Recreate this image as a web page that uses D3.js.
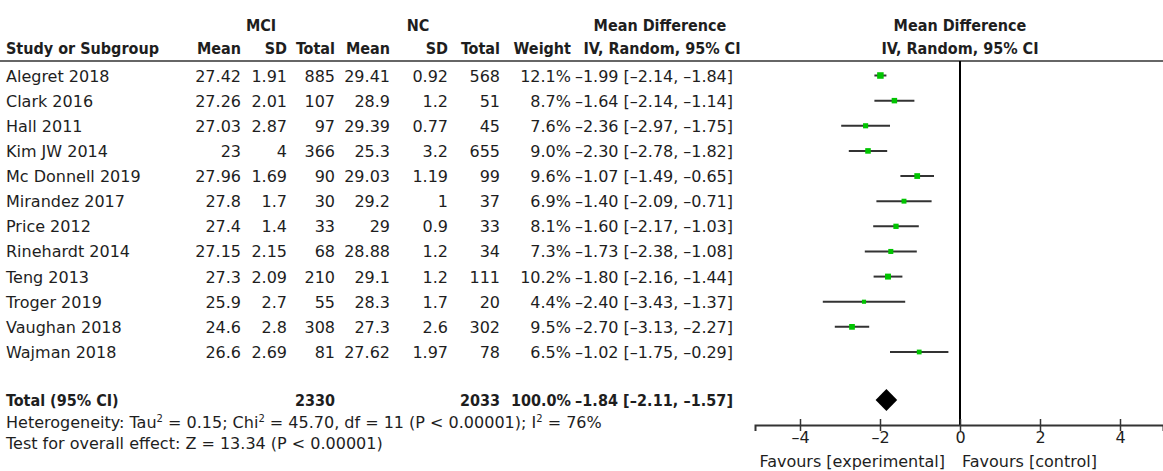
<!DOCTYPE html>
<html>
<head>
<meta charset="utf-8">
<script src="https://cdn.jsdelivr.net/npm/d3@7"></script>
<style>
  body { margin: 0; background: #fff; }
  svg { font-family: "DejaVu Sans", sans-serif; }
</style>
</head>
<body>
<div id="forest"></div>
<script>
// study data
const studies = ["Alegret 2018", "Clark 2016", "Hall 2011", "Kim JW 2014", "Mc Donnell 2019",
    "Mirandez 2017", "Price 2012", "Rinehardt 2014", "Teng 2013", "Troger 2019",
    "Vaughan 2018", "Wajman 2018"];
const mciMean  = [27.42, 27.26, 27.03, 23, 27.96, 27.8, 27.4, 27.15, 27.3, 25.9, 24.6, 26.6];
const mciSD    = [1.91, 2.01, 2.87, 4, 1.69, 1.7, 1.4, 2.15, 2.09, 2.7, 2.8, 2.69];
const mciTotal = [885, 107, 97, 366, 90, 30, 33, 68, 210, 55, 308, 81];
const ncMean   = [29.41, 28.9, 29.39, 25.3, 29.03, 29.2, 29, 28.88, 29.1, 28.3, 27.3, 27.62];
const ncSD     = [0.92, 1.2, 0.77, 3.2, 1.19, 1, 0.9, 1.2, 1.2, 1.7, 2.6, 1.97];
const ncTotal  = [568, 51, 45, 655, 99, 37, 33, 34, 111, 20, 302, 78];
const weight   = [12.1, 8.7, 7.6, 9.0, 9.6, 6.9, 8.1, 7.3, 10.2, 4.4, 9.5, 6.5];
const md       = [-1.99, -1.64, -2.36, -2.30, -1.07, -1.40, -1.60, -1.73, -1.80, -2.40, -2.70, -1.02];
const mdLow    = [-2.14, -2.14, -2.97, -2.78, -1.49, -2.09, -2.17, -2.38, -2.16, -3.43, -3.13, -1.75];
const mdHigh   = [-1.84, -1.14, -1.75, -1.82, -0.65, -0.71, -1.03, -1.08, -1.44, -1.37, -2.27, -0.29];

const total = {mci: 2330, nc: 2033, weight: 100.0, md: -1.84, lo: -2.11, hi: -1.57};
const axisTicks = [-4, -2, 0, 2, 4];

const W = 1163, H = 471;
const fontSize = 16;
const ink = "#1e1e1e";
const ciWidth = 158;  // the CI column is set a bit tighter than the font's natural width

const f2 = d3.format(".2f"), f1 = d3.format(".1f");
let dash = s => s.replace(/[-\u2212]/g, "\u2013");
let ciText = (m, l, h) => dash(`${f2(m)} [${f2(l)}, ${f2(h)}]`);

let svg = d3.select("#forest").append("svg")
    .attr("width", W).attr("height", H)
    .attr("viewBox", `0 0 ${W} ${H}`);

// row positions
let y = d3.scalePoint().domain(studies).range([75.5, 352]);
// forest plot x scale (40px per unit, 0 at 960)
let x = d3.scaleLinear().domain([-5.125, 5.075]).range([755, 1163]);

const yLine = 61, yTotal = 400, yAxis = 425;

/* Header */
let head = svg.append("g").attr("font-weight", "bold").attr("fill", ink)
    .attr("font-family", "'DejaVu Sans Condensed', 'DejaVu Sans', sans-serif")
    .attr("font-size", fontSize);
let h1 = [["MCI", 261], ["NC", 418], ["Mean Difference", 660], ["Mean Difference", 960]];
head.selectAll(".h1").data(h1).join("text")
    .attr("x", d => d[1]).attr("y", 31)
    .attr("text-anchor", "middle").text(d => d[0]);
let h2 = [["Mean", 241], ["SD", 287], ["Total", 335], ["Mean", 390], ["SD", 448], ["Total", 500], ["Weight", 571]];
head.selectAll(".h2").data(h2).join("text")
    .attr("x", d => d[1]).attr("y", 54)
    .attr("text-anchor", "end").text(d => d[0]);
head.append("text").attr("x", 6).attr("y", 54).text("Study or Subgroup");
head.append("text").attr("x", 662).attr("y", 54).attr("text-anchor", "middle").text("IV, Random, 95% CI");
head.append("text").attr("x", 960).attr("y", 54).attr("text-anchor", "middle").text("IV, Random, 95% CI");

svg.append("line").attr("x1", 0).attr("x2", W).attr("y1", yLine).attr("y2", yLine)
    .attr("stroke", "#333").attr("stroke-width", 1.5);

/* Table body */
let cols = [
    {v: mciMean, x: 241}, {v: mciSD, x: 287}, {v: mciTotal, x: 335},
    {v: ncMean, x: 390}, {v: ncSD, x: 448}, {v: ncTotal, x: 500},
    {v: weight.map(w => f1(w) + "%"), x: 571}
];
let body = svg.append("g").attr("fill", ink).attr("font-size", fontSize);
body.selectAll(".name").data(studies).join("text")
    .attr("x", 6).attr("y", d => y(d) + 6).text(d => d);
cols.forEach(c => {
    body.append("g").selectAll("text").data(c.v).join("text")
        .attr("x", c.x).attr("y", (d, i) => y(studies[i]) + 6)
        .attr("text-anchor", "end").text(d => String(d));
});
body.append("g").selectAll("text").data(studies).join("text")
    .attr("x", 733 - ciWidth).attr("y", d => y(d) + 6)
    .attr("textLength", ciWidth).attr("lengthAdjust", "spacing")
    .text((d, i) => ciText(md[i], mdLow[i], mdHigh[i]));

/* Total row */
let tot = svg.append("g").attr("font-weight", "bold").attr("fill", ink)
    .attr("font-family", "'DejaVu Sans Condensed', 'DejaVu Sans', sans-serif")
    .attr("font-size", fontSize);
tot.append("text").attr("x", 6).attr("y", yTotal + 6).text("Total (95% CI)");
[[total.mci, 335], [total.nc, 500], [f1(total.weight) + "%", 571]]
    .forEach(d => tot.append("text").attr("x", d[1]).attr("y", yTotal + 6)
        .attr("text-anchor", "end").text(String(d[0])));
tot.append("text").attr("x", 733 - ciWidth).attr("y", yTotal + 6)
    .attr("textLength", ciWidth).attr("lengthAdjust", "spacing")
    .text(ciText(total.md, total.lo, total.hi));

let notes = svg.append("g").attr("fill", ink).attr("font-size", fontSize);
let het = notes.append("text").attr("x", 6).attr("y", 428);
het.append("tspan").text("Heterogeneity: Tau");
het.append("tspan").attr("font-size", 10).attr("dy", -6).text("2");
het.append("tspan").attr("dy", 6).text(" = 0.15; Chi");
het.append("tspan").attr("font-size", 10).attr("dy", -6).text("2");
het.append("tspan").attr("dy", 6).text(" = 45.70, df = 11 (P < 0.00001); I");
het.append("tspan").attr("font-size", 10).attr("dy", -6).text("2");
het.append("tspan").attr("dy", 6).text(" = 76%");
notes.append("text").attr("x", 6).attr("y", 449).text("Test for overall effect: Z = 13.34 (P < 0.00001)");

/* Forest plot */
let plot = svg.append("g");
plot.append("line")
    .attr("x1", x(0)).attr("x2", x(0)).attr("y1", yLine).attr("y2", yAxis)
    .attr("stroke", "#000").attr("stroke-width", 2);

plot.append("g").selectAll("line").data(studies).join("line")
    .attr("x1", (d, i) => x(mdLow[i])).attr("x2", (d, i) => x(mdHigh[i]))
    .attr("y1", d => y(d)).attr("y2", d => y(d))
    .attr("stroke", "#333").attr("stroke-width", 2);

let boxSize = d3.scaleLinear().domain([4, 12]).range([4, 6.5]);
plot.append("g").selectAll("rect").data(studies).join("rect")
    .attr("x", (d, i) => x(md[i]) - boxSize(weight[i]) / 2)
    .attr("y", (d, i) => y(d) - boxSize(weight[i]) / 2)
    .attr("width", (d, i) => boxSize(weight[i]))
    .attr("height", (d, i) => boxSize(weight[i]))
    .attr("fill", "#00c400");

// summary diamond
plot.append("path")
    .attr("d", `M${x(total.lo)},${yTotal} L${x(total.md)},${yTotal - 11} L${x(total.hi)},${yTotal} L${x(total.md)},${yTotal + 11} Z`)
    .attr("fill", "#000");

/* Axis */
let axis = svg.append("g")
    .attr("transform", `translate(0, ${yAxis})`)
    .call(d3.axisBottom(x).tickValues(axisTicks).tickSizeOuter(0).tickSize(6)
        .tickFormat(d => dash(String(d))));
axis.select(".domain").attr("stroke", "#333").attr("stroke-width", 2);
axis.selectAll(".tick line").attr("y1", -6).attr("y2", 6).attr("stroke", "#333").attr("stroke-width", 1.5);
axis.selectAll(".tick text").attr("y", 7).attr("dy", "0.71em")
    .attr("font-size", fontSize).attr("font-family", "'DejaVu Sans', sans-serif").attr("fill", ink);

svg.append("text").attr("x", x(0) - 15).attr("y", 467).attr("text-anchor", "end")
    .attr("font-size", fontSize).attr("fill", ink).text("Favours [experimental]");
svg.append("text").attr("x", x(0) + 2).attr("y", 467)
    .attr("font-size", fontSize).attr("fill", ink).text("Favours [control]");
</script>
</body>
</html>
